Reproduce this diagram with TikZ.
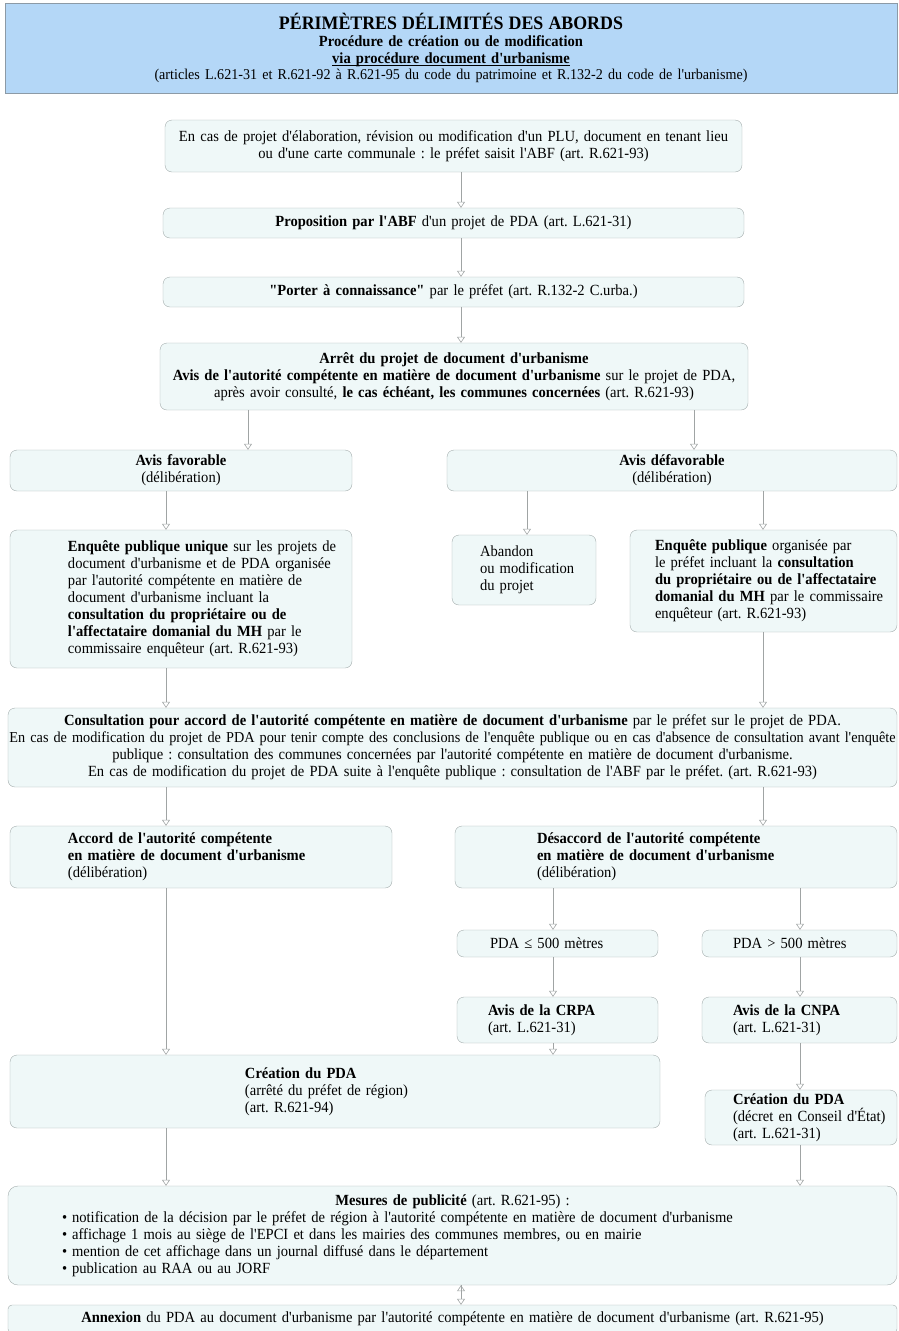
\documentclass[tikz,border=0pt]{standalone}
\usepackage{fontspec}
\setmainfont{Liberation Serif}[Ligatures=TeXOff,FakeStretch=0.94]
\usetikzlibrary{arrows.meta}

\definecolor{boxfill}{HTML}{EFF8F8}
\definecolor{boxline}{HTML}{A3ACAC}
\definecolor{titlefill}{HTML}{B4D7F7}
\definecolor{titleline}{HTML}{8C9AA6}
\definecolor{flowline}{HTML}{A0A4A4}

% left indented text inside a box
\newcommand\padtext[2]{\leftskip=#1\relax #2\par}
% underline set close to the baseline
\newcommand\ulbar[1]{\leavevmode\setbox0\hbox{#1}\rlap{\rule[-1.8pt]{\wd0}{0.7pt}}\box0}

\begin{document}
\frenchspacing
\begin{tikzpicture}[x=1pt,y=-1pt,
  box/.style={draw=boxline,fill=boxfill,rounded corners=7pt,inner sep=0pt,
    align=center,font=\fontsize{15.5}{17}\selectfont},
  lbox/.style={box,align=left},
  flow/.style={draw=flowline,line width=0.6pt,double=white,double distance=2.4pt,
    -{Triangle[open,length=6pt,width=8pt]}}]

\useasboundingbox (0,0) rectangle (899,1331);

% columns used by the connectors
\coordinate (colA) at (166,0);
\coordinate (colB) at (248,0);
\coordinate (colC) at (694,0);
\coordinate (colD) at (527,0);
\coordinate (colE) at (763,0);
\coordinate (colF) at (553,0);
\coordinate (colG) at (800,0);
\coordinate (colM) at (461,0);

% heading
\node[draw=titleline,fill=titlefill,inner sep=0pt,text width=892pt,minimum height=90pt,align=center,
  font=\fontsize{15.5}{17}\selectfont](title) at (451,48)
  {{\fontsize{19}{17}\selectfont\bfseries PÉRIMÈTRES DÉLIMITÉS DES ABORDS}\\
   \textbf{Procédure de création ou de modification}\\
   \textbf{\ulbar{via procédure document d'urbanisme}}\\[-1pt]
   {\fontsize{15}{16}\selectfont (articles L.621-31 et R.621-92 à R.621-95 du code du patrimoine et R.132-2 du code de l'urbanisme)}\\[3pt]};

% main chain
\node[box,text width=577pt,minimum height=52pt](saisine) at (453.5,146)
  {En cas de projet d'élaboration, révision ou modification d'un PLU, document en tenant lieu\\
   ou d'une carte communale : le préfet saisit l'ABF (art. R.621-93)};
\node[box,text width=581pt,minimum height=30pt](propo) at (453.5,223)
  {\textbf{Proposition par l'ABF} d'un projet de PDA (art. L.621-31)};
\node[box,text width=581pt,minimum height=30pt](porter) at (453.5,292)
  {\textbf{"Porter à connaissance"} par le préfet (art. R.132-2 C.urba.)};
\node[box,text width=588pt,minimum height=67pt](arret) at (454,376.5)
  {\textbf{Arrêt du projet de document d'urbanisme}\\
   \textbf{Avis de l'autorité compétente en matière de document d'urbanisme} sur le projet de PDA,\\
   après avoir consulté, \textbf{le cas échéant, les communes concernées} (art. R.621-93)};

% avis
\node[box,text width=342pt,minimum height=41pt](favorable) at (181,470.5)
  {\textbf{Avis favorable}\\(délibération)};
\node[box,text width=450pt,minimum height=41pt](defavorable) at (672,470.5)
  {\textbf{Avis défavorable}\\(délibération)};

% enquetes publiques
\node[lbox,text width=342pt,minimum height=138pt](enqUnique) at (181,599)
  {\padtext{58pt}{\textbf{Enquête publique unique} sur les projets de\\
   document d'urbanisme et de PDA organisée\\
   par l'autorité compétente en matière de\\
   document d'urbanisme incluant la\\
   \textbf{consultation du propriétaire ou de}\\
   \textbf{l'affectataire domanial du MH} par le\\
   commissaire enquêteur (art. R.621-93)}};
\node[lbox,text width=144pt,minimum height=70pt](abandon) at (524,570)
  {\padtext{28pt}{Abandon\\ ou modification\\ du projet}};
\node[lbox,text width=267pt,minimum height=102pt](enqPublique) at (763.5,581)
  {\padtext{25pt}{\textbf{Enquête publique} organisée par\\
   le préfet incluant la \textbf{consultation}\\
   \textbf{du propriétaire ou de l'affectataire}\\
   \textbf{domanial du MH} par le commissaire\\
   enquêteur (art. R.621-93)}};

% consultation pour accord
\node[box,text width=889pt,minimum height=79pt](consult) at (452.5,747.5)
  {\textbf{Consultation pour accord de l'autorité compétente en matière de document d'urbanisme} par le préfet sur le projet de PDA.\\
   \resizebox{886pt}{!}{En cas de modification du projet de PDA pour tenir compte des conclusions de l'enquête publique ou en cas d'absence de consultation avant l'enquête}\\
   publique : consultation des communes concernées par l'autorité compétente en matière de document d'urbanisme.\\
   En cas de modification du projet de PDA suite à l'enquête publique : consultation de l'ABF par le préfet. (art. R.621-93)};

% accord / desaccord
\node[lbox,text width=382pt,minimum height=62pt](accord) at (201,857)
  {\padtext{58pt}{\textbf{Accord de l'autorité compétente}\\
   \textbf{en matière de document d'urbanisme}\\ (délibération)}};
\node[lbox,text width=442pt,minimum height=62pt](desaccord) at (676,857)
  {\padtext{82pt}{\textbf{Désaccord de l'autorité compétente}\\
   \textbf{en matière de document d'urbanisme}\\ (délibération)}};

\node[lbox,text width=201pt,minimum height=27pt](petit) at (557.5,943.5)
  {\padtext{33pt}{PDA ≤ 500 mètres}};
\node[lbox,text width=195pt,minimum height=27pt](grand) at (799.5,943.5)
  {\padtext{31pt}{PDA > 500 mètres}};
\node[lbox,text width=201pt,minimum height=46pt](crpa) at (557.5,1020)
  {\padtext{31pt}{\textbf{Avis de la CRPA}\\ (art. L.621-31)}};
\node[lbox,text width=195pt,minimum height=46pt](cnpa) at (799.5,1020)
  {\padtext{31pt}{\textbf{Avis de la CNPA}\\ (art. L.621-31)}};

% creation
\node[lbox,text width=650pt,minimum height=73pt](creaRegion) at (335,1091.5)
  {\padtext{235pt}{\textbf{Création du PDA}\\ (arrêté du préfet de région)\\ (art. R.621-94)}};
\node[lbox,text width=192pt,minimum height=55pt](creaEtat) at (801,1117.5)
  {\padtext{28pt}{\textbf{Création du PDA}\\ (décret en Conseil d'État)\\ (art. L.621-31)}};

% publicite et annexion
\node[lbox,text width=889pt,minimum height=99pt,rounded corners=10pt](mesures) at (452.5,1235.5)
  {\makebox[889pt]{\textbf{Mesures de publicité} (art. R.621-95) :}\\
   \padtext{54pt}{•\hspace{5pt}notification de la décision par le préfet de région à l'autorité compétente en matière de document d'urbanisme\\
   •\hspace{5pt}affichage 1 mois au siège de l'EPCI et dans les mairies des communes membres, ou en mairie\\
   •\hspace{5pt}mention de cet affichage dans un journal diffusé dans le département\\
   •\hspace{5pt}publication au RAA ou au JORF}};
\node[box,text width=889pt,minimum height=28pt,rounded corners=4pt](annexion) at (452.5,1319)
  {\textbf{Annexion} du PDA au document d'urbanisme par l'autorité compétente en matière de document d'urbanisme (art. R.621-95)};

\path[flow]
(saisine.south -| colM) edge (propo.north -| colM)
(propo.south -| colM) edge (porter.north -| colM)
(porter.south -| colM) edge (arret.north -| colM)
(arret.south -| colB) edge (favorable.north -| colB)
(arret.south -| colC) edge (defavorable.north -| colC)
(favorable.south -| colA) edge (enqUnique.north -| colA)
(defavorable.south -| colD) edge (abandon.north -| colD)
(defavorable.south -| colE) edge (enqPublique.north -| colE)
(enqUnique.south -| colA) edge (consult.north -| colA)
(enqPublique.south -| colE) edge (consult.north -| colE)
(consult.south -| colA) edge (accord.north -| colA)
(consult.south -| colE) edge (desaccord.north -| colE)
(accord.south -| colA) edge (creaRegion.north -| colA)
(desaccord.south -| colF) edge (petit.north -| colF)
(desaccord.south -| colG) edge (grand.north -| colG)
(petit.south -| colF) edge (crpa.north -| colF)
(grand.south -| colG) edge (cnpa.north -| colG)
(crpa.south -| colF) edge (creaRegion.north -| colF)
(cnpa.south -| colG) edge (creaEtat.north -| colG)
(creaRegion.south -| colA) edge (mesures.north -| colA)
(creaEtat.south -| colG) edge (mesures.north -| colG)
(mesures.south -| colM) edge (annexion.north -| colM);

\end{tikzpicture}
\end{document}
